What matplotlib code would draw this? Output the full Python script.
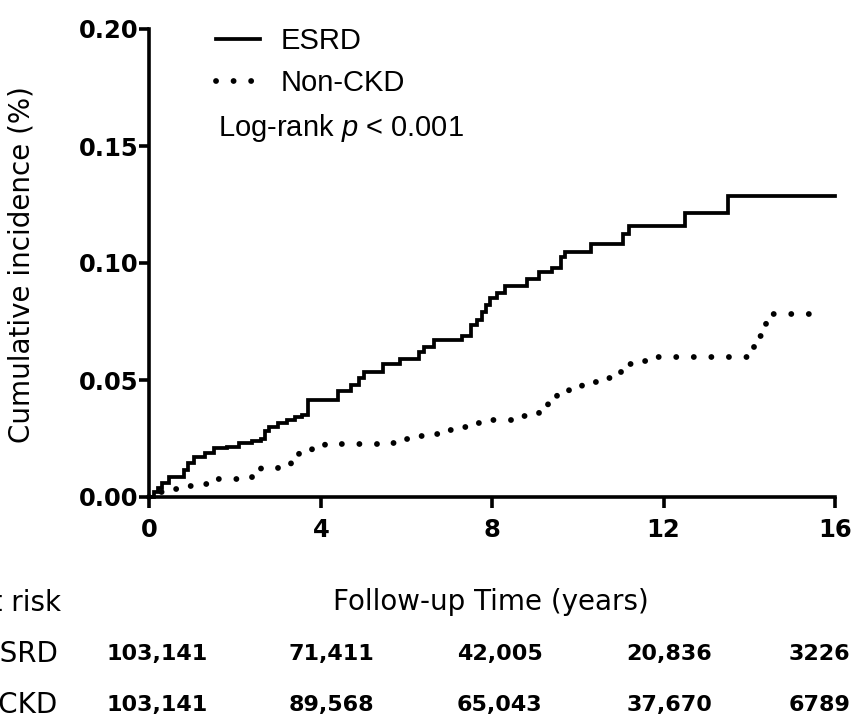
import numpy as np
import matplotlib
matplotlib.use('Agg')
import matplotlib.pyplot as plt
import matplotlib.transforms as mtransforms

plt.rcParams['mathtext.fontset'] = 'custom'
plt.rcParams['mathtext.rm'] = 'Liberation Sans'
plt.rcParams['mathtext.it'] = 'Liberation Sans:italic'

# cumulative incidence step curves (years, %)
esrd_t = [0.0, 0.1, 0.2, 0.3, 0.45, 0.8, 0.9, 1.05, 1.3, 1.5, 1.8, 2.1, 2.4, 2.6, 2.7,
          2.8, 3.0, 3.2, 3.4, 3.55, 3.7, 4.4, 4.7, 4.9, 5.0, 5.45, 5.85, 6.3, 6.4, 6.65,
          7.3, 7.5, 7.65, 7.75, 7.85, 7.95, 8.1, 8.3, 8.8, 9.1, 9.4, 9.6, 9.7, 10.3,
          11.05, 11.2, 12.5, 13.5, 16.0]
esrd_y = [0.0, 0.002, 0.004, 0.006, 0.0085, 0.0115, 0.0145, 0.017, 0.019, 0.021, 0.0215,
          0.023, 0.024, 0.025, 0.028, 0.030, 0.0315, 0.033, 0.034, 0.035, 0.0415, 0.0455,
          0.048, 0.051, 0.0535, 0.057, 0.059, 0.062, 0.064, 0.067, 0.069, 0.0735, 0.0755,
          0.079, 0.082, 0.085, 0.087, 0.090, 0.093, 0.096, 0.098, 0.1025, 0.1045, 0.108,
          0.1125, 0.116, 0.1215, 0.1285, 0.1285]

nonckd_t = [0.0, 0.2, 0.5, 0.9, 1.3, 1.6, 2.4, 2.6, 3.0, 3.3, 3.5, 3.8, 4.1, 5.4, 5.8,
            6.1, 6.4, 6.8, 7.1, 7.5, 7.8, 8.5, 8.85, 9.1, 9.3, 9.5, 9.8, 10.1, 10.5,
            10.8, 11.0, 11.3, 11.7, 13.95, 14.1, 14.3, 14.4, 15.8]
nonckd_y = [0.0, 0.002, 0.0035, 0.0045, 0.0055, 0.0076, 0.0098, 0.0124, 0.0137, 0.016,
            0.019, 0.021, 0.0225, 0.023, 0.0248, 0.026, 0.027, 0.0286, 0.030, 0.0315,
            0.033, 0.0345, 0.035, 0.039, 0.042, 0.045, 0.047, 0.049, 0.051, 0.053, 0.057,
            0.058, 0.060, 0.064, 0.069, 0.0735, 0.078, 0.078]

xticks = [0, 4, 8, 12, 16]
yticks = [0.00, 0.05, 0.10, 0.15, 0.20]

# number at risk table
risk_header = 'Number at risk'
risk_groups = ['ESRD', 'Non-CKD']
risk_esrd = ['103,141', '71,411', '42,005', '20,836', '3226']
risk_nonckd = ['103,141', '89,568', '65,043', '37,670', '6789']
risk_xpos = [0.17, 4.25, 8.17, 12.13, 15.63]

fig = plt.figure(figsize=(8.54, 7.22), dpi=100)
ax = fig.add_axes([149.5 / 854, 1 - 497 / 722, 685.5 / 854, 468 / 722])

ax.step(esrd_t, esrd_y, where='post', color='black', lw=2.7, label='ESRD',
        clip_on=False, solid_joinstyle='miter')
ax.step(nonckd_t, nonckd_y, where='post', color='black', lw=4.2, label='Non-CKD',
        linestyle=(0, (0.01, 3.0)), dash_capstyle='round', clip_on=False)

ax.set_xlim(0, 16)
ax.set_ylim(0, 0.20)
ax.set_xticks(xticks)
ax.set_yticks(yticks)
ax.set_xticklabels([str(v) for v in xticks], fontsize=17.5, fontweight='bold')
ax.set_yticklabels(['%.2f' % v for v in yticks], fontsize=17.5, fontweight='bold')
for s in ['top', 'right']:
    ax.spines[s].set_visible(False)
for s in ['left', 'bottom']:
    ax.spines[s].set_linewidth(2.6)
ax.tick_params(axis='x', direction='out', length=8, width=2.6, pad=7)
ax.tick_params(axis='y', direction='out', length=7, width=2.6, pad=1)

ax.set_ylabel('Cumulative incidence (%)', fontsize=20)
ax.yaxis.set_label_coords(-0.186, 0.496)
ax.yaxis.label.set_va('center')
ax.set_xlabel('Follow-up Time (years)', fontsize=20)
ax.xaxis.set_label_coords(0.498, -0.224)
ax.xaxis.label.set_va('center')

leg = ax.legend(loc='upper left', bbox_to_anchor=(216 / 854, 1 - 27 / 722),
                bbox_transform=fig.transFigure, frameon=False,
                prop={'family': 'Liberation Sans', 'size': 21},
                handlelength=1.5, handletextpad=0.7, labelspacing=0.48,
                borderpad=0, borderaxespad=0)
fig.text(218 / 854, 1 - 128 / 722, r'Log-rank $p$ < 0.001', fontsize=21,
         family='Liberation Sans', ha='left', va='center')

# number at risk rows
fig.text(61 / 854, 1 - 603 / 722, risk_header, fontsize=20,
         ha='right', va='center')
row_y = [1 - 654 / 722, 1 - 705 / 722]
trans = mtransforms.blended_transform_factory(ax.transData, fig.transFigure)
for name, counts, yy in zip(risk_groups, [risk_esrd, risk_nonckd], row_y):
    fig.text(58 / 854, yy, name, fontsize=20, ha='right', va='center')
    for xp, c in zip(risk_xpos, counts):
        ax.text(xp, yy, c, transform=trans, fontsize=16, fontweight='bold',
                ha='center', va='center', clip_on=False)

fig.savefig('out.png', dpi=100)
